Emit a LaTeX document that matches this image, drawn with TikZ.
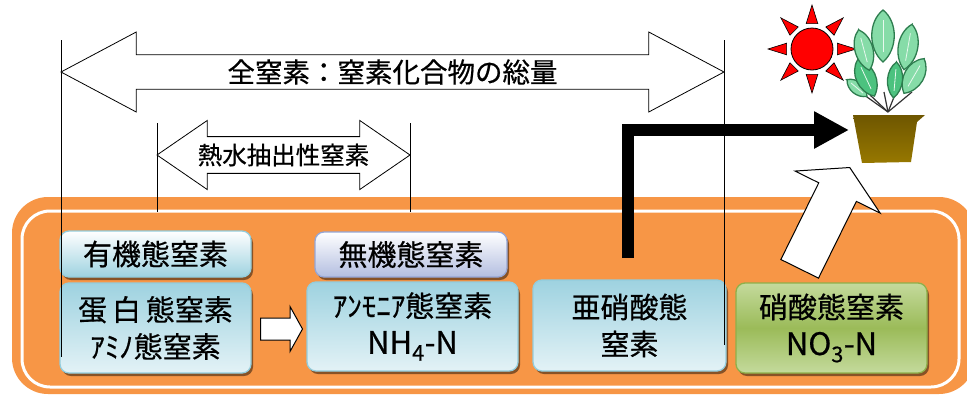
\documentclass[tikz,border=0pt]{standalone}
\usepackage{fontspec}
\setmainfont{Noto Sans CJK JP}[FakeBold=0.6]
\usetikzlibrary{arrows.meta,positioning,shapes.arrows,shadows}
\definecolor{Soil}{HTML}{F79646}
\definecolor{AquaEdge}{HTML}{93CDDD}
\definecolor{AquaDeep}{HTML}{9ED2E0}
\definecolor{AquaPale}{HTML}{E3F2F6}
\definecolor{LilacEdge}{HTML}{95A6D6}
\definecolor{LilacDeep}{HTML}{B3BEE0}
\definecolor{LeafEdge}{HTML}{8EB04A}
\definecolor{LeafMid}{HTML}{9BBB59}
\definecolor{LeafPale}{HTML}{C4DA9C}
\definecolor{PotTop}{HTML}{6E5600}
\definecolor{PotBot}{HTML}{977800}
\definecolor{Foliage}{HTML}{86DCA8}
\definecolor{FoliageDeep}{HTML}{4CC27F}
\definecolor{FoliageEdge}{HTML}{2E7D4F}

\newcommand\formula[1]{{\fontsize{31}{36}\selectfont #1}}

\begin{document}
\begin{tikzpicture}[x=1pt,y=-1pt,
  every node/.style={font=\fontsize{29}{37}\selectfont,text=black},
  basebox/.style={rounded corners=9pt,align=center,line width=1.3pt,inner sep=0pt,
    drop shadow={shadow xshift=2pt,shadow yshift=-3pt,fill=black,opacity=0.45}},
  formbox/.style={basebox,draw=AquaEdge,top color=AquaDeep,bottom color=AquaPale,minimum height=90pt},
  tagbox/.style={basebox,draw=AquaEdge,top color=white,bottom color=AquaDeep,minimum width=191pt,minimum height=46pt},
  inorgbox/.style={basebox,draw=LilacEdge,top color=white,bottom color=LilacDeep,minimum width=192pt,minimum height=45pt},
  nitrbox/.style={basebox,draw=LeafEdge,top color=LeafPale,bottom color=LeafPale,middle color=LeafMid,minimum width=191pt,minimum height=90pt},
  dimarrow/.style={double arrow,draw=black,line width=0.8pt,fill=white,inner xsep=0pt,inner ysep=2pt},
  blockarr/.style={single arrow,draw=black,line width=1pt,fill=white,inner xsep=0pt},
  flowarr/.style={-{Triangle[length=35pt,width=35pt]},line width=12pt,draw=black},
  guide/.style={draw=black,line width=0.8pt},
  sunray/.style={fill=red,draw=black,line width=0.6pt},
  leaf/.style={draw=FoliageEdge,line width=1.3pt},
  stem/.style={draw=black!80,line width=1.2pt}
]
\useasboundingbox (0,0) rectangle (967,394);

% soil band
\fill[Soil,rounded corners=36pt] (12,197) rectangle (975,394);
\draw[white,line width=3pt,rounded corners=28pt] (22,211) rectangle (959,387);

% nitrogen forms
\node[tagbox] (organic) at (155.5,254) {有機態窒素};
\node[formbox,minimum width=191pt] (protein) at (155.5,328) {蛋\,白\,態窒素\\ｱﾐﾉ態窒素};
\node[inorgbox] (inorganic) at (411,254.5) {無機態窒素};
\node[formbox,minimum width=211pt,minimum height=89pt] (ammonium) at (412.5,326.5) {ｱﾝﾓﾆｱ態窒素\\\formula{NH\textsubscript{4}-N}};
\node[formbox,minimum width=193pt,minimum height=91pt] (nitrite) at (629.5,325.5) {亜硝酸態\\窒素};
\node[nitrbox] (nitrate) at (831.5,328) {硝酸態窒素\\\formula{NO\textsubscript{3}-N}};
\node[blockarr,minimum height=42pt,minimum width=44pt,inner ysep=10.5pt,single arrow head extend=11.5pt,
  single arrow tip angle=122,anchor=tail] (mineral) at (260,329) {};

% range lines
\draw[guide] (61,40) -- (61,357);
\draw[guide] (724,40) -- (724,345);
\draw[guide] (157,123) -- (157,212);
\draw[guide] (410,123) -- (410,212);

% ranges
\node[dimarrow,minimum height=663pt,minimum width=80pt,double arrow head extend=20pt,
  double arrow tip angle=56,font=\fontsize{27.5}{27.5}\selectfont] (totalN) at (392.5,72) {全窒素：窒素化合物の総量};
\node[dimarrow,minimum height=253pt,minimum width=69pt,double arrow head extend=12pt,
  double arrow tip angle=69,font=\fontsize{24.5}{24.5}\selectfont] (hotwater) at (283.5,155) {熱水抽出性窒素};

% sun
\node[circle,fill=red,draw=black,line width=0.8pt,minimum size=42pt,inner sep=0pt] (sun) at (812,49) {};
\foreach \a in {0,45,...,315}
  \filldraw[sunray] ([shift={(\a:44)}]sun.center) -- ([shift={(\a+13:26)}]sun.center)
    -- ([shift={(\a-13:26)}]sun.center) -- cycle;

% potted plant
\draw[stem] (888,112) -- (860,92);
\draw[stem] (888,112) -- (870,95);
\draw[stem] (888,112) -- (884,92);
\draw[stem] (888,112) -- (896,92);
\draw[stem] (888,112) -- (912,92);
\foreach \lx/\ly/\rx/\ry/\rot/\shade in {857/88/8/13/50/Foliage, 866/78/13/20/25/FoliageDeep,
    864/50/12/21/15/Foliage, 908/47/13/23/-10/Foliage, 883/36/15/26/0/Foliage,
    914/76/13/20/-30/Foliage, 895/80/10/18/-5/FoliageDeep}
  {\filldraw[leaf,fill=\shade,shift={(\lx,\ly)},rotate=\rot]
     (0,-\ry) .. controls (\rx,{-0.55*\ry}) and (\rx,{0.5*\ry}) .. (0,\ry)
     .. controls (-\rx,{0.5*\ry}) and (-\rx,{-0.55*\ry}) .. cycle;
   \draw[white!80!Foliage,line width=0.8pt,shift={(\lx,\ly)},rotate=\rot] (0,{-0.6*\ry}) -- (0,{0.6*\ry});}
\shade[top color=PotTop,bottom color=PotBot] (853,115) -- (925,115) -- (917,122) -- (911,162) -- (862,163) -- cycle;
\coordinate (pot) at (849,130);
\coordinate (riser) at (628,258);

% uptake paths
\draw[flowarr] (riser) |- (pot);
\node[blockarr,minimum height=113pt,minimum width=94pt,inner ysep=20.5pt,single arrow head extend=26.5pt,
  single arrow tip angle=120,rotate=63.7,anchor=tip] (uptake) at (850,167) {};
\end{tikzpicture}
\end{document}
